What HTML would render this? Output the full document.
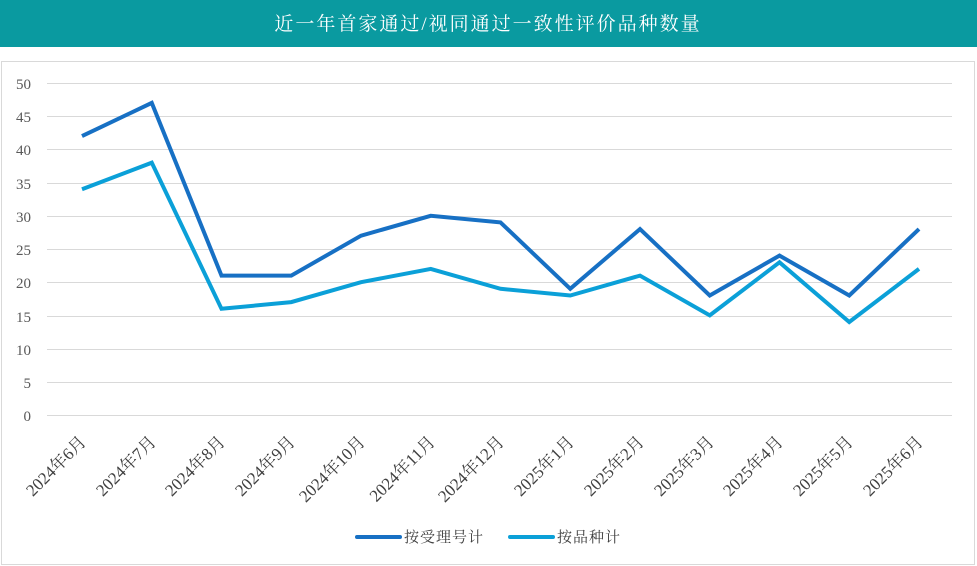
<!DOCTYPE html><html><head><meta charset="utf-8"><style>body{margin:0;background:#fff}svg{display:block}</style></head><body>
<svg width="977" height="566" xmlns="http://www.w3.org/2000/svg" font-family="'Liberation Serif','Noto Serif CJK SC',serif">
<rect x="0" y="0" width="977" height="47" fill="#0A9AA0"/>
<text x="488" y="30" fill="#fff" font-size="19" text-anchor="middle" letter-spacing="2">近一年首家通过/视同通过一致性评价品种数量</text>
<rect x="1.5" y="61.5" width="973" height="503" fill="#fff" stroke="#d9d9d9"/>
<g stroke="#d9d9d9" stroke-width="1">
<line x1="47" x2="952" y1="83.5" y2="83.5"/><line x1="47" x2="952" y1="116.5" y2="116.5"/><line x1="47" x2="952" y1="149.5" y2="149.5"/><line x1="47" x2="952" y1="183.5" y2="183.5"/><line x1="47" x2="952" y1="216.5" y2="216.5"/><line x1="47" x2="952" y1="249.5" y2="249.5"/><line x1="47" x2="952" y1="282.5" y2="282.5"/><line x1="47" x2="952" y1="316.5" y2="316.5"/><line x1="47" x2="952" y1="349.5" y2="349.5"/><line x1="47" x2="952" y1="382.5" y2="382.5"/><line x1="47" x2="952" y1="415.5" y2="415.5"/>
</g>
<g font-size="15" fill="#595959" text-anchor="end">
<text x="31" y="89">50</text><text x="31" y="122">45</text><text x="31" y="155">40</text><text x="31" y="189">35</text><text x="31" y="222">30</text><text x="31" y="255">25</text><text x="31" y="288">20</text><text x="31" y="322">15</text><text x="31" y="355">10</text><text x="31" y="388">5</text><text x="31" y="421">0</text>
</g>
<polyline fill="none" stroke="#1770C4" stroke-width="4" points="82,136.1 151.75,102.9 221.5,275.6 291.25,275.6 361,235.7 430.75,215.8 500.5,222.4 570.25,288.8 640,229.1 709.75,295.5 779.5,255.6 849.25,295.5 919,229.1"/>
<polyline fill="none" stroke="#0BA0D8" stroke-width="4" points="82,189.2 151.75,162.7 221.5,308.8 291.25,302.1 361,282.2 430.75,268.9 500.5,288.8 570.25,295.5 640,275.6 709.75,315.4 779.5,262.3 849.25,322.0 919,268.9"/>
<g font-size="17" fill="#404040" text-anchor="end">
<text transform="translate(87,443) rotate(-45)">2024年6月</text>
<text transform="translate(157,443) rotate(-45)">2024年7月</text>
<text transform="translate(226,443) rotate(-45)">2024年8月</text>
<text transform="translate(296,443) rotate(-45)">2024年9月</text>
<text transform="translate(366,443) rotate(-45)">2024年10月</text>
<text transform="translate(436,443) rotate(-45)">2024年11月</text>
<text transform="translate(505,443) rotate(-45)">2024年12月</text>
<text transform="translate(575,443) rotate(-45)">2025年1月</text>
<text transform="translate(645,443) rotate(-45)">2025年2月</text>
<text transform="translate(715,443) rotate(-45)">2025年3月</text>
<text transform="translate(784,443) rotate(-45)">2025年4月</text>
<text transform="translate(854,443) rotate(-45)">2025年5月</text>
<text transform="translate(924,443) rotate(-45)">2025年6月</text>
</g>
<line x1="357" x2="400" y1="537" y2="537" stroke="#1770C4" stroke-width="4" stroke-linecap="round"/>
<text x="404" y="542" font-size="15" fill="#404040" letter-spacing="1">按受理号计</text>
<line x1="510" x2="553" y1="537" y2="537" stroke="#0BA0D8" stroke-width="4" stroke-linecap="round"/>
<text x="557" y="542" font-size="15" fill="#404040" letter-spacing="1">按品种计</text>
</svg>
</body></html>
